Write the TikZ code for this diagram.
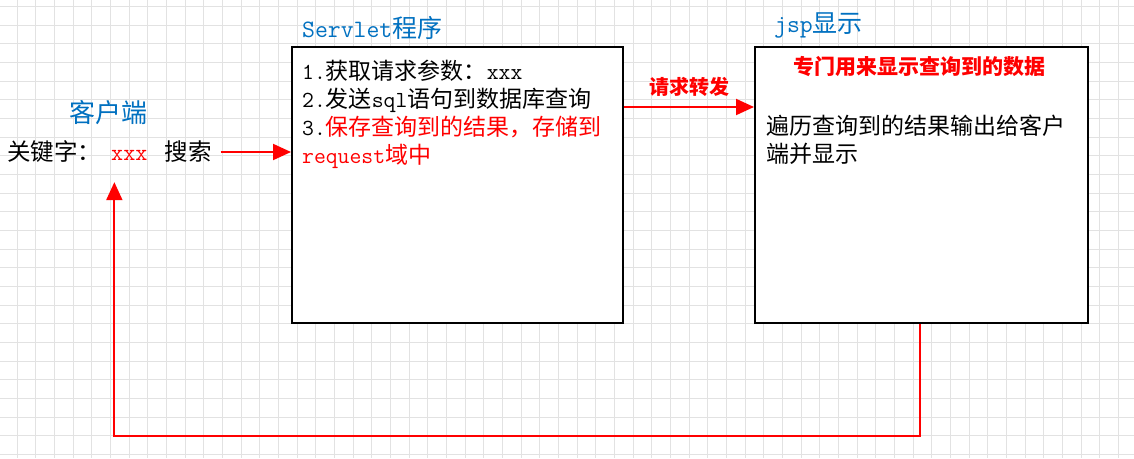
\documentclass[tikz,border=0pt]{standalone}
\usepackage{fontspec}
\setmainfont{Noto Sans CJK SC}
\usetikzlibrary{arrows.meta,positioning,calc}
\definecolor{titleblue}{RGB}{0,112,192}
\definecolor{gridgray}{RGB}{226,226,226}
\tikzset{
  box/.style={
    draw,
    fill=white,
    line width=2pt,
    minimum width=331pt,
    minimum height=276pt,
    inner sep=0pt
  },
  title/.style={inner sep=0pt,text=titleblue,font=\fontsize{25}{30}\selectfont},
  body/.style={inner sep=0pt,align=left,font=\fontsize{23}{28}\selectfont},
  head/.style={inner sep=0pt,text=red,font=\fontsize{20}{24}\selectfont\bfseries},
  flow/.style={-{Triangle[length=18pt,width=16pt]},red,line width=2pt},
  gridline/.style={gridgray,line width=0.8pt}
}

\begin{document}
\begin{tikzpicture}[x=1pt,y=-1pt]
  \useasboundingbox (0,0) rectangle (1134,458);

  % Background grid.
  \foreach \k in {0,...,60}
    \draw[gridline] ({17+18.67*(\k-1)},0) -- ++(0,458);
  \foreach \k in {0,...,24}
    \draw[gridline] (0,{6.4+18.67*\k}) -- ++(1134,0);

  % Client side.
  \node[body,anchor=west,font=\fontsize{23.5}{28}\selectfont] (kw) at (7,152)
    {关键字：\hspace{10pt}{\ttfamily\color{red}xxx}\hspace{17pt}搜索};
  \node[title,above=16pt of kw,xshift=-1pt,font=\fontsize{26}{30}\selectfont] (client) {客户端};

  % Servlet box.
  \node[box] (servlet) at (457.5,185) {};
  \node[title,anchor=base west] (stitle) at ([xshift=11pt,yshift=9pt]servlet.north west)
    {{\ttfamily Servlet}程序};
  \node[body,anchor=north west] (stext) at ([xshift=11pt,yshift=-13.5pt]servlet.north west)
    {{\ttfamily 1.}获取请求参数：{\ttfamily xxx}\\
     {\ttfamily 2.}发送{\ttfamily sql}语句到数据库查询\\
     {\ttfamily 3.}\textcolor{red}{保存查询到的结果，存储到}\\
     \textcolor{red}{{\ttfamily request}域中}};

  % Jsp box.
  \node[box,minimum width=333pt] (jsp) at (921.5,185) {};
  \node[title,anchor=base west] (jtitle) at ([xshift=20pt,yshift=14pt]jsp.north west)
    {{\ttfamily jsp}显示};
  \node[head,font=\fontsize{21}{24}\selectfont\bfseries] (jhead) at ([yshift=-21pt,xshift=-2pt]jsp.north)
    {专门用来显示查询到的数据};
  \node[body,anchor=north west] (jtext) at ([xshift=12pt,yshift=-68.5pt]jsp.north west)
    {遍历查询到的结果输出给客户\\端并显示};

  % Connectors.
  \draw[flow,shorten <=9pt] (kw.east) -- (kw.east -| servlet.west);
  \draw[flow] ([yshift=78pt]servlet.east) -- node[head,above=9pt]{请求转发} ([yshift=78pt]jsp.west);
  \draw[flow,shorten >=19pt] ([xshift=-2pt]jsp.south) -- ++(0,112) -| ([xshift=5pt]kw.south);
\end{tikzpicture}
\end{document}
